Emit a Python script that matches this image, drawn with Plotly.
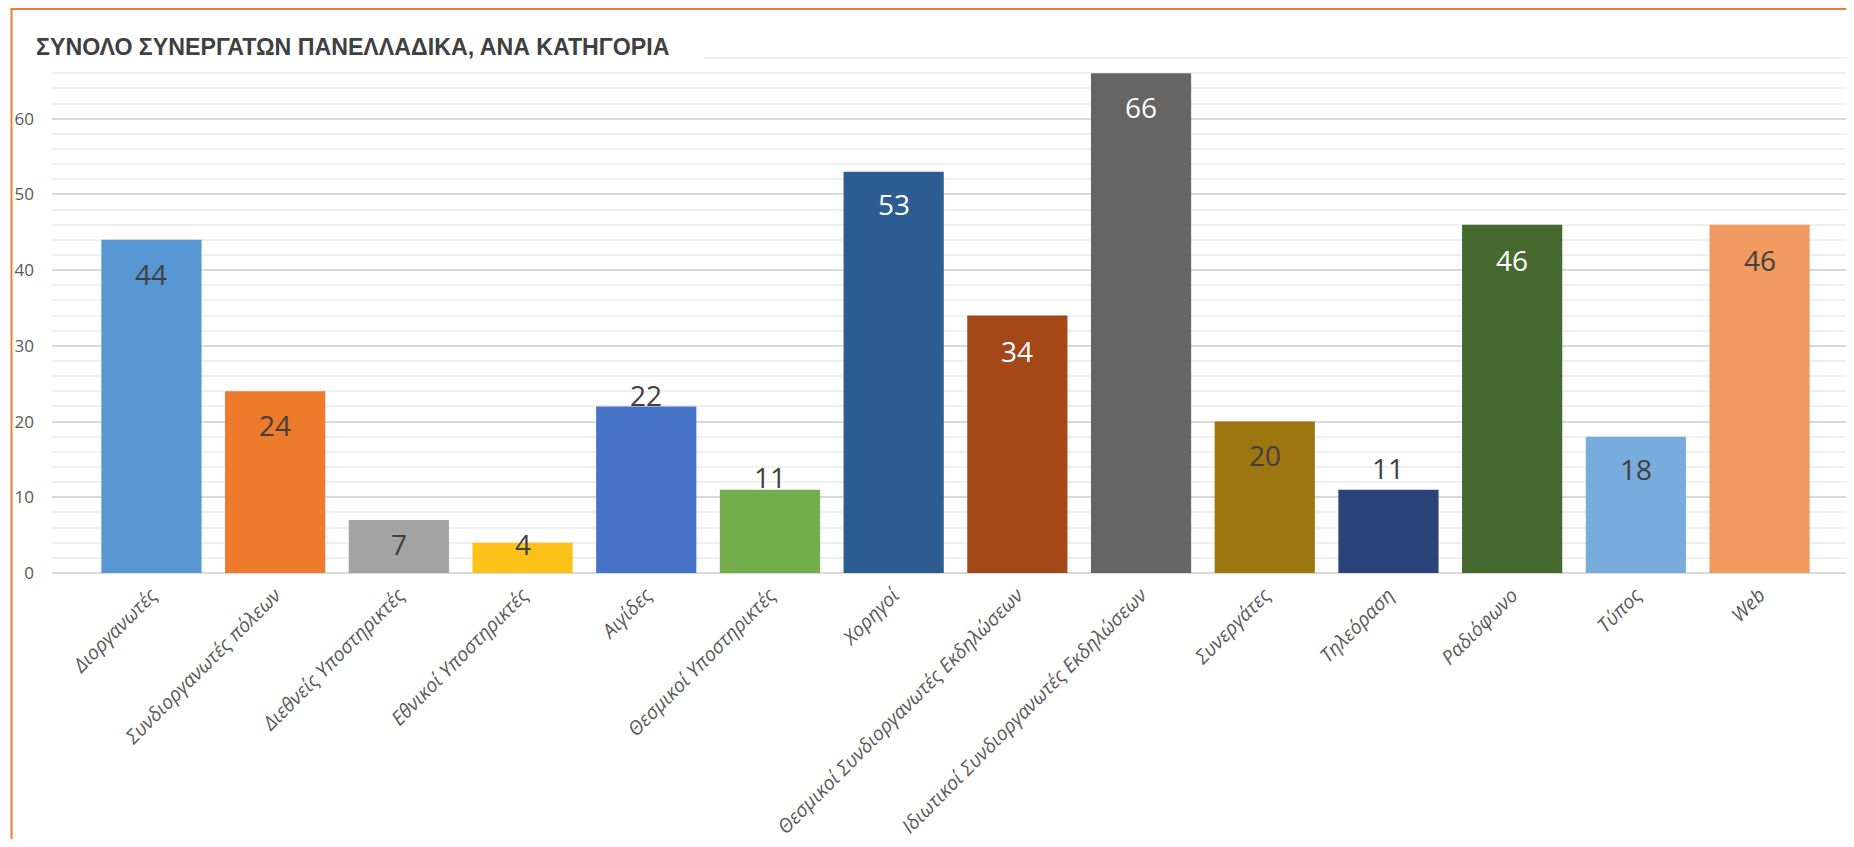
import plotly.graph_objects as go

# ---- data ----
categories = [
    "Διοργανωτές",
    "Συνδιοργανωτές πόλεων",
    "Διεθνείς Υποστηρικτές",
    "Εθνικοί Υποστηρικτές",
    "Αιγίδες",
    "Θεσμικοί Υποστηρικτές",
    "Χορηγοί",
    "Θεσμικοί Συνδιοργανωτές Εκδηλώσεων",
    "Ιδιωτικοί Συνδιοργανωτές Εκδηλώσεων",
    "Συνεργάτες",
    "Τηλεόραση",
    "Ραδιόφωνο",
    "Τύπος",
    "Web",
]
values = [44, 24, 7, 4, 22, 11, 53, 34, 66, 20, 11, 46, 18, 46]
title_text = "ΣΥΝΟΛΟ ΣΥΝΕΡΓΑΤΩΝ ΠΑΝΕΛΛΑΔΙΚΑ, ΑΝΑ ΚΑΤΗΓΟΡΙΑ"

# ---- styles ----
bar_colors = ["#5896d3", "#ee7a2c", "#a3a3a3", "#fcc21a", "#4673c8", "#71ad4a",
              "#2b5d93", "#a4481a", "#656565", "#9d7610", "#2a4479", "#46692f",
              "#77acdd", "#f09a5f"]
label_colors = ["#404040", "#404040", "#404040", "#404040", "#404040", "#404040",
                "#ffffff", "#ffffff", "#ffffff", "#404040", "#404040", "#ffffff",
                "#404040", "#404040"]
label_shift = [-34, -34, -24, -1, 11, 13, -32, -35, -34, -33, 22, -35, -32, -35]

WIN_W, WIN_H = 1854, 847
OFF = 8  # page body margin
W, H = WIN_W - 2 * OFF, WIN_H - 2 * OFF
# window-pixel layout targets
WIN_PLOT_LEFT, WIN_PLOT_TOP, WIN_PLOT_BOTTOM = 52, 43, 573
ML = WIN_PLOT_LEFT - OFF
MT = WIN_PLOT_TOP - OFF
MB = H - (WIN_PLOT_BOTTOM - OFF)
plot_w = W - ML
plot_h = H - MT - MB

def px_to_paper_x(px):  # px in window coords
    return (px - WIN_PLOT_LEFT) / plot_w

def px_to_paper_y(py):
    return (WIN_PLOT_BOTTOM - py) / plot_h

fig = go.Figure()
fig.add_trace(go.Bar(
    x=categories,
    y=values,
    marker=dict(color=bar_colors, line=dict(width=0)),
    width=0.81,
    hoverinfo="x+y",
))

for c, v, col, sh in zip(categories, values, label_colors, label_shift):
    fig.add_annotation(
        x=c, y=v, xref="x", yref="y", text=str(v), showarrow=False,
        yanchor="middle", yshift=sh,
        font=dict(family="Open Sans", size=28, color=col),
    )

# white box behind the title covering gridlines
fig.add_shape(type="rect", xref="paper", yref="paper",
              x0=px_to_paper_x(14), x1=px_to_paper_x(704),
              y0=px_to_paper_y(66), y1=px_to_paper_y(20),
              fillcolor="white", line=dict(width=0), layer="above")

fig.add_annotation(
    xref="paper", yref="paper", x=px_to_paper_x(34), y=px_to_paper_y(47),
    xanchor="left", yanchor="middle", showarrow=False, text=title_text,
    font=dict(family="Liberation Sans", size=23.2, color="#404040", weight="bold"),
)

# orange chart border (top and left visible)
fig.add_shape(type="line", xref="paper", yref="paper",
              x0=px_to_paper_x(10.5), x1=1.0,
              y0=px_to_paper_y(9), y1=px_to_paper_y(9),
              line=dict(color="#ED7D31", width=2), layer="above")
fig.add_shape(type="line", xref="paper", yref="paper",
              x0=px_to_paper_x(11.5), x1=px_to_paper_x(11.5),
              y0=px_to_paper_y(9), y1=px_to_paper_y(WIN_H + 20),
              line=dict(color="#ED7D31", width=2), layer="above")

first_band_left = 89.6
cat_step = 123.7
x_lo = -0.5 - (first_band_left - WIN_PLOT_LEFT) / cat_step
x_hi = x_lo + plot_w / cat_step

fig.update_layout(
    width=W, height=H,
    margin=dict(l=ML, r=0, t=MT, b=MB, autoexpand=False),
    paper_bgcolor="white", plot_bgcolor="white",
    showlegend=False,
    xaxis=dict(
        range=[x_lo, x_hi], tickangle=-45, showgrid=False, zeroline=False,
        showline=False, ticks="",
        tickfont=dict(family="Open Sans", size=19.5, color="#595959", style="italic"),
        ticklabelstandoff=6,
    ),
    yaxis=dict(
        range=[0, 70], dtick=10, tick0=0, showgrid=True, gridcolor="#d9d9d9",
        gridwidth=1.5, zeroline=True, zerolinecolor="#d9d9d9", zerolinewidth=2,
        showline=False, ticks="",
        tickfont=dict(family="Open Sans", size=17, color="#595959"),
        ticklabelstandoff=17,
        minor=dict(dtick=2, showgrid=True, gridcolor="#f0f0f0", gridwidth=1.5),
    ),
)

fig.write_html("out.html", config={"displayModeBar": False})
